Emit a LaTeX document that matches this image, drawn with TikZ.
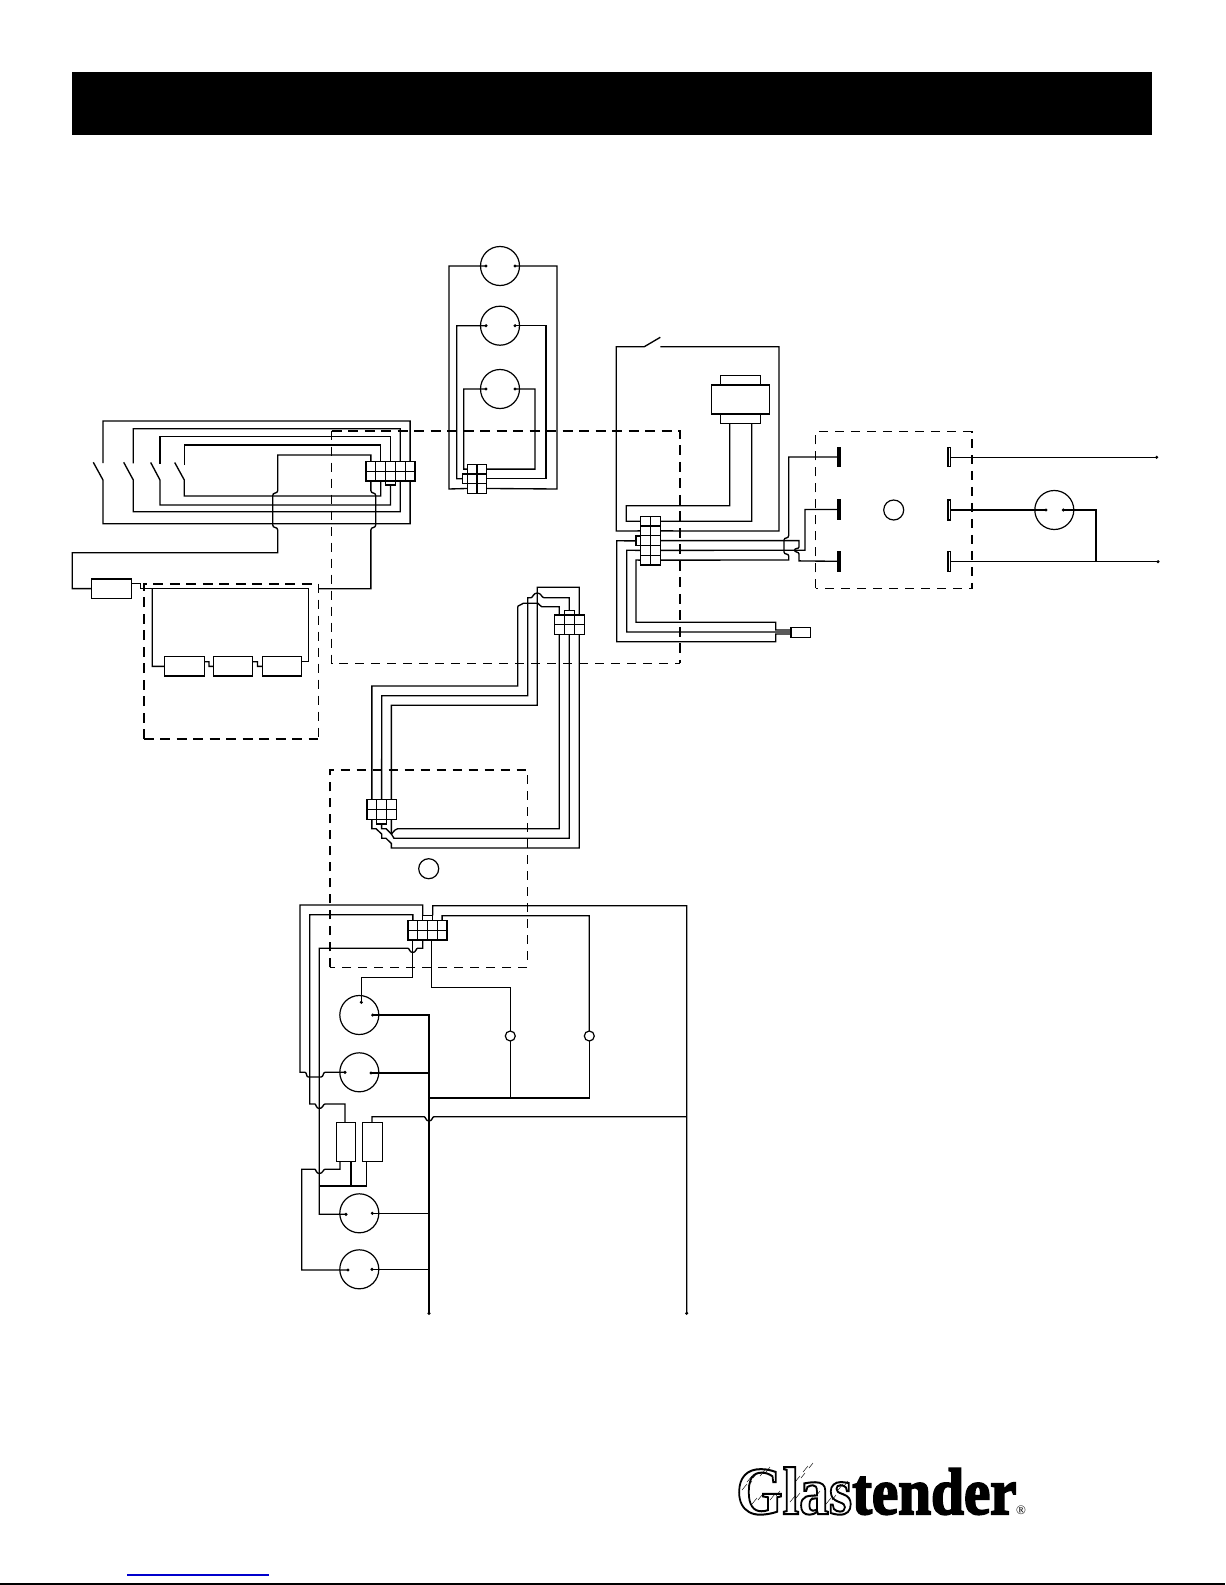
\documentclass[tikz,border=0pt]{standalone}
\usepackage{graphicx}
\usepackage{fontspec}
\setmainfont{Liberation Serif}
\newfontfamily\logob[UprightFont={* Bold},FakeBold=3]{Liberation Serif}
\newfontfamily\logoc[UprightFont={* Bold}]{Liberation Serif}
\pgfdeclarelayer{wires}
\pgfsetlayers{wires,main}
\tikzset{
  wire/.style={line width=1.35bp,line join=miter,line cap=butt},
  compbox/.style={draw,line width=1.35bp,fill=white,inner sep=0pt,outer sep=0pt,rectangle},
  lamp/.style={draw,line width=1.2bp,fill=none,circle,inner sep=0pt,outer sep=0pt,minimum size=39bp},
  pilot/.style={draw,line width=1.2bp,fill=white,circle,inner sep=0pt,outer sep=0pt,minimum size=10bp},
  hub/.style={draw,line width=1.2bp,circle,inner sep=0pt,outer sep=0pt,minimum size=20bp},
  cellline/.style={line width=1.1bp},
  heavydash/.style={line width=1.6bp,dash pattern=on 10bp off 6.5bp},
  lightdash/.style={line width=1.15bp,dash pattern=on 9bp off 7bp},
  hatch/.style={line width=0.45bp}
}
\newcommand{\rbox}[6][]{%
  \pgfmathsetmacro\rw{#5-#3}\pgfmathsetmacro\rh{#6-#4}%
  \pgfmathsetmacro\rcx{(#5+#3)/2}\pgfmathsetmacro\rcy{(#6+#4)/2}%
  \node[compbox,#1,minimum width=\rw bp,minimum height=\rh bp] (#2) at (\rcx,\rcy) {};}
\newcommand{\gridconn}[7]{%
  \rbox{#1}{#2}{#3}{#4}{#5}%
  \foreach \i in {1,...,#6}{%
    \pgfmathsetmacro\cx{#2+(\i-0.5)*(#4-#2)/#6}%
    \coordinate (#1-t\i) at (\cx,#3);\coordinate (#1-b\i) at (\cx,#5);
    \pgfmathsetmacro\lx{#2+\i*(#4-#2)/#6}%
    \ifnum\i<#6\relax\draw[cellline] (\lx,#3) -- (\lx,#5);\fi}
  \foreach \i in {1,...,#7}{%
    \pgfmathsetmacro\cy{#3+(\i-0.5)*(#5-#3)/#7}%
    \coordinate (#1-l\i) at (#2,\cy);\coordinate (#1-r\i) at (#4,\cy);
    \pgfmathsetmacro\ly{#3+\i*(#5-#3)/#7}%
    \ifnum\i<#7\relax\draw[cellline] (#2,\ly) -- (#4,\ly);\fi}}
\newcommand{\pin}[3]{\coordinate (#1) at (#2,#3);\fill (#2,#3) circle (1.7);}
\begin{document}
\begin{tikzpicture}[x=1bp,y=-1bp]
\useasboundingbox (0,0) rectangle (1225,1585);
\fill[black] (72,72) rectangle (1152.3,135);
\draw[line width=1.5bp] (0,1584) -- (1225,1584);
\draw[line width=1.5bp,color={rgb,255:red,0;green,0;blue,204}] (127,1575) -- (269,1575);

% dashed enclosures
\draw[heavydash] (143.7,739) -- (143.7,583.7) -- (318.3,583.7);
\draw[heavydash] (143.7,739) -- (318.3,739);
\draw[lightdash] (318.3,583.7) -- (318.3,739);
\draw[heavydash] (331.7,430.7) -- (680,430.7) -- (680,663.3);
\draw[lightdash] (331.7,430.7) -- (331.7,663.3) -- (680,663.3);
\draw[lightdash,line width=1.25bp] (815.7,588.3) -- (815.7,431.7) -- (972,431.7) -- (972,588.3) -- cycle;
\draw[lightdash,line width=1.25bp] (330,967.3) -- (330,770) -- (527.3,770) -- (527.3,967.3) -- cycle;

% connectors
\gridconn{A}{366}{461.7}{415}{481}{5}{2}
\rbox{Atab}{385.7}{481}{395.3}{485}
\gridconn{Top}{467.3}{464.3}{486.7}{493.3}{2}{3}
\rbox{Toptab}{462.3}{474}{467.3}{483.3}
\gridconn{B}{640.3}{516.3}{660.3}{565}{2}{5}
\rbox{Btab}{636}{536}{640.3}{545.7}
\gridconn{C}{554.3}{615}{584.3}{634.3}{3}{2}
\rbox{Ctab}{564.3}{610.7}{574.3}{615}
\gridconn{D}{367}{799.7}{396.3}{819.3}{3}{2}
\rbox{Dtab}{376.7}{819.3}{386.5}{824}
\gridconn{E}{408}{920.3}{447}{940}{4}{2}
\rbox{Etab}{422.7}{915.3}{432.7}{920.3}

% boxes
\rbox{fuse}{91.7}{579}{131.3}{598.3}
\rbox{hA}{164.7}{656.7}{204.3}{676}
\rbox{hB}{213.7}{656.7}{252.7}{676}
\rbox{hC}{262.7}{656.7}{301.7}{676}
\rbox{xfTop}{720.7}{375.3}{760.3}{385}
\rbox{xfBot}{720.7}{414}{760.3}{423.7}
\rbox{xfMid}{711.3}{385}{769.3}{414}
\rbox{plug}{791}{627.3}{810.7}{637.3}
\rbox[fill=black]{TLa}{837.6}{447.3}{840.6}{466.7}
\rbox[fill=black]{TLb}{837.6}{499.3}{840.6}{519.7}
\rbox[fill=black]{TLc}{837.6}{551.3}{840.6}{571.3}
\rbox{TRa}{948}{447.3}{950.6}{466.7}
\rbox{TRb}{948}{500}{950.6}{520}
\rbox{TRc}{948}{551.3}{950.6}{571.3}
\rbox{resA}{336.3}{1122.7}{355.7}{1161.7}
\rbox{resB}{362.7}{1122.7}{382.3}{1161.7}

% round components
\node[lamp] (La) at (500,266) {};
\node[lamp] (Lb) at (500,325.7) {};
\node[lamp] (Lc) at (500,389) {};
\node[lamp] (Mot) at (1054.3,510) {};
\node[lamp] (Ma) at (359.3,1015) {};
\node[lamp] (Mb) at (359.3,1072.3) {};
\node[lamp] (Mc) at (359.3,1213.3) {};
\node[lamp] (Md) at (359.3,1269.3) {};
\node[hub] (hubR) at (893.7,510) {};
\node[hub] (hubM) at (428.7,868.7) {};
\node[pilot] (PA) at (510.3,1036) {};
\node[pilot] (PB) at (589.3,1036) {};

% terminals
\pin{LaL}{486}{266}\pin{LaR}{515}{266}
\pin{LbL}{486}{325.7}\pin{LbR}{515}{325.7}
\pin{LcL}{486}{389}\pin{LcR}{515}{389}
\pin{MotL}{1046}{510}\pin{MotR}{1063.3}{510}
\pin{MaT}{361.3}{1002.3}\pin{MaR}{372.7}{1015}
\pin{MbL}{345}{1072.3}\pin{MbR}{371}{1073}
\pin{McL}{346}{1214.3}\pin{McR}{372.3}{1213.3}
\pin{MdL}{348}{1270}\pin{MdR}{372}{1269.3}
\pin{EndA}{1156.7}{457.3}\pin{EndB}{1158}{561.7}
\pin{EndC}{429}{1313.3}\pin{EndD}{686.7}{1313.3}
\coordinate (sw1t) at (103,463);\coordinate (sw1h) at (103,480);\coordinate (sw1b) at (93.3,462.3);
\coordinate (sw2t) at (133.3,463.3);\coordinate (sw2h) at (133.3,480);\coordinate (sw2b) at (123.7,462.3);
\coordinate (sw3t) at (160,464);\coordinate (sw3h) at (160,480);\coordinate (sw3b) at (150.7,462.5);
\coordinate (sw4t) at (184.3,465);\coordinate (sw4h) at (184.3,480);\coordinate (sw4b) at (174.7,462.5);
\coordinate (dsL) at (644.3,346.7);\coordinate (dsB) at (660.3,337.3);\coordinate (dsR) at (660.3,346.7);
\coordinate (boxEdge) at (318.3,588.7);

\begin{pgfonlayer}{wires}
% left loom
\draw[wire] (sw1t) -- (103,421) -- (410.1,421) -- (A-t5);
\draw[wire] (A-b5) -- (410.1,523.7) -- (103,523.7) -- (sw1h) -- (sw1b);
\draw[wire] (sw2t) -- (133.3,428.7) -- (400.3,428.7) -- (A-t4);
\draw[wire] (A-b4) -- (400.3,511.7) -- (133.3,511.7) -- (sw2h) -- (sw2b);
\draw[wire] (sw3t) -- (160,436.7) -- (390.5,436.7) -- (A-t3);
\draw[wire] (Atab.south) -- (390.5,505) -- (160,505) -- (sw3h) -- (sw3b);
\draw[wire] (sw4t) -- (184.3,445) -- (380.7,445) -- (A-t2);
\draw[wire] (A-b2) -- (380.7,496) -- (184.3,496) -- (sw4h) -- (sw4b);
\draw[wire] (A-t1) -- (370.9,455) -- (277.7,455) -- (277.7,490.7) .. controls (277.7,494) and (272.7,492) .. (272.7,495.5) -- (272.7,525) .. controls (272.7,528.5) and (277.7,526.5) .. (277.7,530) -- (277.7,552.7) -- (72.3,552.7) -- (72.3,588.65) -- (fuse.west);
\draw[wire] (A-b1) -- (370.9,490.7) .. controls (370.9,494) and (375.7,492) .. (375.7,495.5) -- (375.7,525) .. controls (375.7,528.5) and (370.9,526.5) .. (370.9,530) -- (370.9,588.7) -- (boxEdge);
\draw[wire] (131.3,583.7) -- (140.3,583.7) -- (140.3,588.7) -- (308.3,588.7) -- (308.3,661.7) -- (301.7,661.7);
\draw[wire] (152.3,588.7) -- (152.3,666.35) -- (hA.west);
\draw[wire] (204.3,661.7) -- (209,661.7) -- (209,666.35) -- (hB.west);
\draw[wire] (252.7,661.7) -- (257.5,661.7) -- (257.5,666.35) -- (hC.west);
% top lamps
\draw[wire] (LaL) -- (449,266) -- (449,489) -- (Top-l3);
\draw[wire] (LaR) -- (557,266) -- (557,489) -- (Top-r3);
\draw[wire] (LbL) -- (456.7,325.7) -- (456.7,478.8) -- (Toptab.west);
\draw[wire] (LbR) -- (546,325.7) -- (546,478.8) -- (Top-r2);
\draw[wire] (LcL) -- (463.7,389) -- (463.7,469.1) -- (Top-l1);
\draw[wire] (LcR) -- (535,389) -- (535,469.1) -- (Top-r1);
% door switch and transformer
\draw[wire] (dsB) -- (dsL) -- (616.3,346.7) -- (616.3,531) -- (B-l2);
\draw[wire] (dsR) -- (779,346.7) -- (779,531) -- (B-r2);
\draw[wire] (729.7,423.7) -- (729.7,505.7) -- (626.3,505.7) -- (626.3,521.2) -- (B-l1);
\draw[wire] (751.7,423.7) -- (751.7,521.2) -- (B-r1);
% contactor feeds
\draw[wire] (B-r3) -- (799,540.6) -- (799,547) .. controls (799,549) and (794.5,548) .. (794.5,550.2) .. controls (794.5,552.5) and (799,551.5) .. (799,554) -- (799,560.9) -- (TLc.west);
\draw[wire] (B-r4) -- (805,550.2) -- (805,509.5) -- (TLb.west);
\draw[wire] (B-r5) -- (788.7,560) -- (788.7,556) .. controls (788.7,553) and (784,555) .. (784,552) -- (784,540) .. controls (784,537) and (788.7,539) .. (788.7,535.5) -- (788.7,457) -- (TLa.west);
% plug
\draw[wire] (B-l5) -- (636,560) -- (636,622.3) -- (775.7,622.3) -- (775.7,630) -- (791,630);
\draw[wire] (B-l4) -- (626.7,550.2) -- (626.7,632) -- (791,632);
\draw[wire] (Btab.west) -- (616.7,540.8) -- (616.7,641.7) -- (775.7,641.7) -- (775.7,634) -- (791,634);
% mains side
\draw[wire] (TRa.east) -- (950.6,457.3) -- (EndA);
\draw[wire] (TRb.east) -- (MotL);
\draw[wire] (TRc.east) -- (950.6,561.7) -- (EndB);
\draw[wire] (MotR) -- (1096,510) -- (1096,561.7);
% middle harness
\draw[wire] (D-t1) -- (371.9,686) -- (517.7,686) -- (517.7,607.3) .. controls (517.7,604.5) and (521,606) .. (523.3,603.3) -- (538,603.3) .. controls (540,603.3) and (539,606.7) .. (541.7,606.7) -- (559.3,606.7) -- (C-t1);
\draw[wire] (D-t2) -- (381.7,695.7) -- (527.7,695.7) -- (527.7,597.7) -- (531,597.7) .. controls (533,597.7) and (533,593) .. (537.3,593) .. controls (541.5,593) and (541.5,597.7) .. (544,597.7) -- (569.3,597.7) -- (Ctab.north);
\draw[wire] (D-t3) -- (391.4,705.3) -- (537.3,705.3) -- (537.3,587.3) -- (579.3,587.3) -- (C-t3);
\draw[wire] (D-b1) -- (371.9,828.7) -- (376,828.7) -- (381.7,834) -- (381.7,838.3) -- (386,838.3) -- (391.4,843.5) -- (391.4,848) -- (579.3,848) -- (C-b3);
\draw[wire] (Dtab.south) -- (381.6,828.7) -- (386,828.7) -- (391.4,834) -- (395,830) -- (397.7,828.7) -- (559.3,828.7) -- (C-b1);
\draw[wire] (D-b3) -- (391.4,834) -- (394,838.3) -- (569.3,838.3) -- (C-b2);
% bottom section
\draw[wire] (Etab.north west) -- (422.7,905) -- (300,905) -- (300,1072.3) -- (305,1072.3) .. controls (307,1072.3) and (306,1077) .. (308.3,1077) -- (321,1077) .. controls (323.5,1077) and (323,1072.3) .. (325,1072.3) -- (MbL);
\draw[wire] (Etab.north east) -- (432.7,905.7) -- (686.7,905.7) -- (EndD);
\draw[wire] (E-t1) -- (412.9,914.7) -- (309.7,914.7) -- (309.7,1104) -- (315,1104) .. controls (316,1104) and (316,1108.5) .. (319.3,1108.5) .. controls (323,1108.5) and (323,1104) .. (325,1104) -- (345,1104) -- (345,1122.7);
\draw[wire] (E-t4) -- (442.1,915.7) -- (589.3,915.7) -- (PB.north);
\draw[wire] (PB.south) -- (589.3,1098) -- (429,1098);
\draw[wire] (422.7,940) -- (422.7,948.3) -- (417.5,948.3) .. controls (416,948.3) and (416,952.5) .. (412.7,952.5) .. controls (409.5,952.5) and (409.5,948.3) .. (408,948.3) -- (319.3,948.3) -- (319.3,1214.3) -- (McL);
\draw[wire] (412.7,940) -- (412.7,977.7) -- (361.3,977.7) -- (MaT);
\draw[wire] (431.7,940) -- (431.7,987.7) -- (510.3,987.7) -- (PA.north);
\draw[wire] (PA.south) -- (510.3,1098);
\draw[wire] (MaR) -- (429,1015) -- (EndC);
\draw[wire] (MbR) -- (429,1073);
\draw[wire] (McR) -- (429,1213.3);
\draw[wire] (MdR) -- (429,1269.3);
\draw[wire] (372,1122.7) -- (372,1116.7) -- (424,1116.7) .. controls (426,1116.7) and (425.5,1121) .. (429,1121) .. controls (432.5,1121) and (432,1116.7) .. (434,1116.7) -- (686.7,1116.7);
\draw[wire] (340,1161.7) -- (340,1169.3) -- (325,1169.3) .. controls (323,1169.3) and (323,1173.5) .. (319.3,1173.5) .. controls (316,1173.5) and (316,1169.3) .. (315,1169.3) -- (301.7,1169.3) -- (301.7,1270) -- (MdL);
\draw[wire] (351,1161.7) -- (351,1186);
\draw[wire] (366.7,1161.7) -- (366.7,1186) -- (319.3,1186);
\end{pgfonlayer}

% logo
\node[anchor=base west,inner sep=0pt,name=logoA] at (736,1514) {\scalebox{0.88}[1]{\logoc\fontsize{68}{68}\selectfont\special{pdf:code 1 Tr 2 w}Glas\special{pdf:code 0 Tr}}};
\node[anchor=base west,inner sep=0pt,name=logoB] at (852,1514) {\scalebox{0.9}[1]{\logob\fontsize{66}{66}\selectfont tender}};
\node[inner sep=0pt,name=logoR] at (1021,1510.7) {\fontsize{13}{13}\selectfont ®};
\foreach \a/\b in {742/1490,747/1482,752/1504,770/1500,790/1502,795/1482,810/1500,826/1504,838/1490,803/1472,760/1476}
  \draw[hatch] (\a,\b) -- ++(5,-6) ++(1,2) -- ++(4,-5);
\end{tikzpicture}
\end{document}
